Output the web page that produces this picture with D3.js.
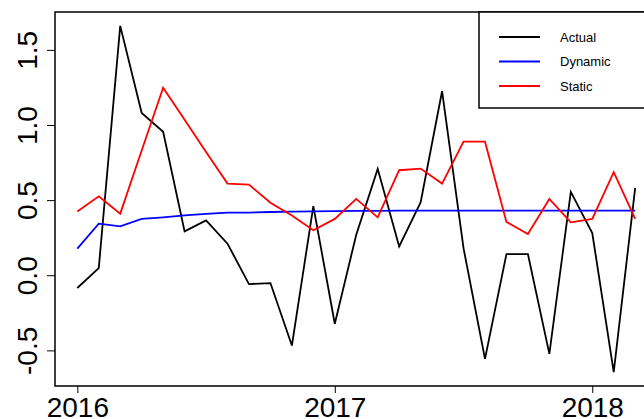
<!DOCTYPE html>
<html>
<head>
<meta charset="utf-8">
<script src="https://cdn.jsdelivr.net/npm/d3@7"></script>
<style>
	body { margin: 0; background: #fff; }
	svg { display: block; font-family: "Liberation Sans", Arial, sans-serif; }
</style>
</head>
<body>
<script>
// monthly series, Jan 2016 .. Mar 2018
const startYear = 2016,
	  actual = [-0.085, 0.048, 1.66, 1.08, 0.955, 0.292, 0.365, 0.21, -0.059, -0.052, -0.468, 0.46, -0.323, 0.27, 0.708, 0.192, 0.485, 1.225, 0.18, -0.557, 0.141, 0.141, -0.523, 0.555, 0.281, -0.645, 0.581],
	  dynamic = [0.177, 0.343, 0.325, 0.375, 0.385, 0.398, 0.408, 0.417, 0.417, 0.421, 0.423, 0.425, 0.427, 0.428, 0.429, 0.43, 0.43, 0.43, 0.43, 0.43, 0.43, 0.43, 0.43, 0.43, 0.43, 0.43, 0.43],
	  staticFc = [0.425, 0.525, 0.41, 0.83, 1.248, 1.035, 0.82, 0.61, 0.603, 0.483, 0.397, 0.3, 0.375, 0.508, 0.385, 0.699, 0.71, 0.61, 0.889, 0.889, 0.355, 0.275, 0.508, 0.352, 0.375, 0.686, 0.375],
	  seriesNames = ["Actual", "Dynamic", "Static"],
	  seriesColors = ["black", "blue", "red"],
	  xTicks = [2016, 2017, 2018],
	  yTicks = [-0.5, 0, 0.5, 1, 1.5];

const w = 644, h = 419,
	  plotL = 55, plotR = 657.5, plotT = 12, plotB = 386;

const series = [actual, dynamic, staticFc];

// R style 4% axis extension
const pad = (lo, hi) => { let e = (hi - lo) * 0.04; return [lo - e, hi + e]; };

const xExt = pad(startYear, startYear + (actual.length - 1) / 12),
	  allVals = [].concat(actual, dynamic, staticFc),
	  yExt = pad(d3.min(allVals), d3.max(allVals));

const xScale = d3.scaleLinear().domain(xExt).range([plotL, plotR]),
	  yScale = d3.scaleLinear().domain(yExt).range([plotB, plotT]);

const svg = d3.select("body")
			  .append("svg")
			  .attr("width", w)
			  .attr("height", h);

// lines
const line = d3.line()
			   .x((d, i) => xScale(startYear + i / 12))
			   .y(d => yScale(d));

svg.selectAll("path.series")
   .data(series)
   .enter()
   .append("path")
   .attr("class", "series")
   .attr("d", line)
   .attr("fill", "none")
   .attr("stroke", (d, i) => seriesColors[i])
   .attr("stroke-width", 1.8)
   .attr("stroke-linejoin", "miter");

// axes
const xAxis = d3.axisBottom(xScale)
				.tickValues(xTicks)
				.tickFormat(d3.format("d"))
				.tickSize(7)
				.tickPadding(3),
	  yAxis = d3.axisLeft(yScale)
				.tickValues(yTicks)
				.tickFormat(d => d.toFixed(1))   // plain hyphen like R
				.tickSize(8);

const gx = svg.append("g")
			  .attr("transform", "translate(0," + plotB + ")")
			  .call(xAxis);
gx.select(".domain").remove();
gx.selectAll("line").attr("stroke", "#000").attr("stroke-width", 1);
gx.selectAll("text")
  .attr("fill", "#000")
  .style("font-size", "28px")
  .attr("dy", null)
  .attr("y", 31);

const gy = svg.append("g")
			  .attr("transform", "translate(" + plotL + ",0)")
			  .call(yAxis);
gy.select(".domain").remove();
gy.selectAll("line").attr("stroke", "#000").attr("stroke-width", 1);
gy.selectAll("text")
  .attr("fill", "#000")
  .style("font-size", "28px")
  .attr("x", null)
  .attr("dy", null)
  .attr("text-anchor", "middle")
  .attr("transform", "translate(-18,0) rotate(-90)");

// plot box
svg.append("rect")
   .attr("x", plotL)
   .attr("y", plotT)
   .attr("width", plotR - plotL)
   .attr("height", plotB - plotT)
   .attr("fill", "none")
   .attr("stroke", "#000")
   .attr("stroke-width", 1.5);

// legend
const legend = svg.append("g");

legend.append("rect")
	  .attr("x", 479)
	  .attr("y", plotT)
	  .attr("width", plotR - 479)
	  .attr("height", 96)
	  .attr("fill", "#fff")
	  .attr("stroke", "#000")
	  .attr("stroke-width", 1.5);

const rows = legend.selectAll("g.row")
				   .data(seriesNames)
				   .enter()
				   .append("g")
				   .attr("class", "row")
				   .attr("transform", (d, i) => "translate(0," + (37 + i * 24.5) + ")");

rows.append("line")
	.attr("x1", 499)
	.attr("x2", 540)
	.attr("stroke", (d, i) => seriesColors[i])
	.attr("stroke-width", 1.8);

rows.append("text")
	.text(d => d)
	.attr("x", 560)
	.attr("dy", "0.36em")
	.attr("fill", "#000")
	.style("font-size", "13px");
</script>
</body>
</html>
